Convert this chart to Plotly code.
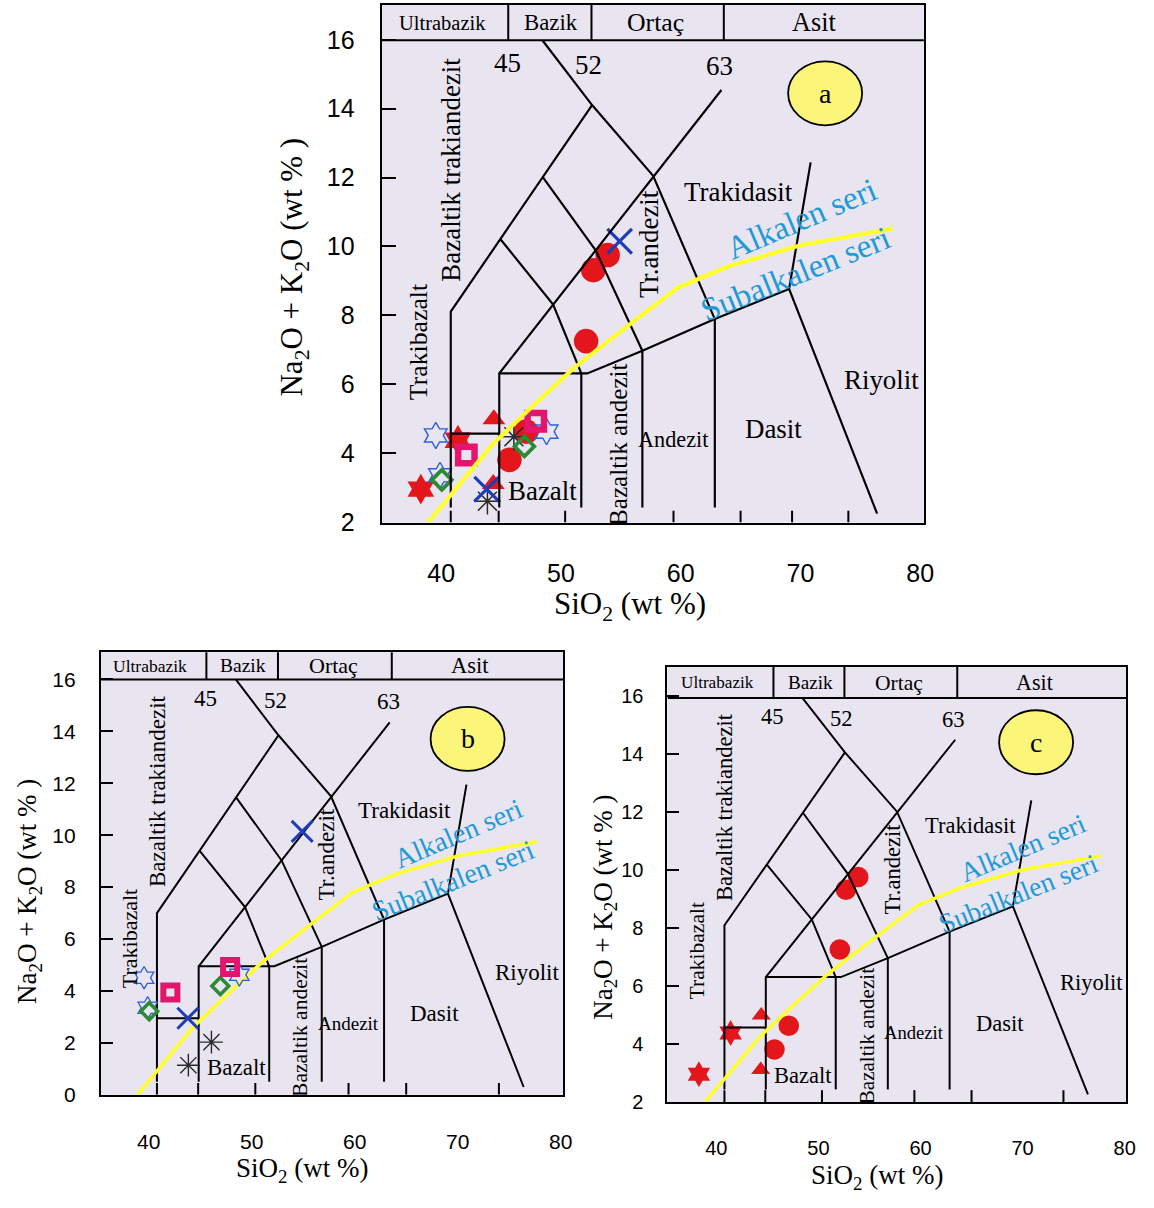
import plotly.graph_objects as go

FIG_W, FIG_H = 1154, 1208

# ---------------- tick labels ----------------
x_tick_vals = [40, 50, 60, 70, 80]
y_tick_vals_ac = [2, 4, 6, 8, 10, 12, 14, 16]
y_tick_vals_b = [0, 2, 4, 6, 8, 10, 12, 14, 16]

# ---------------- samples (values read on each panel's labelled axes) ----------------
red_star_x = [38.3, 41.4]
red_star_y = [2.95, 4.37]
red_tri_x = [44.4, 44.35]
red_tri_y = [4.98, 3.10]
red_dot_x = [45.7, 47.1, 52.1, 52.7, 53.9]
red_dot_y = [3.80, 4.62, 7.25, 9.31, 9.75]
blue_star_x = [39.55, 39.9, 48.8]
blue_star_y = [4.51, 3.35, 4.62]
green_dia_x = [40.05, 46.95]
green_dia_y = [3.22, 4.19]
pink_sq_x = [42.1, 47.9]
pink_sq_y = [3.94, 4.92]
blue_x_x = [43.8, 54.9]
blue_x_y = [2.95, 10.15]
black_ast_a_x = [46.07, 43.86]
black_ast_a_y = [4.47, 2.60]
black_ast_b_x = [46.09, 43.85]
black_ast_b_y = [2.03, 1.14]

# ---------------- TAS field boundaries (diagram units) ----------------
FIELD_LINES = [
    ([40.8, 40.8, 52.6], [0.5, 7.0, 13.85]),
    ([48.45, 52.6, 57.7, 62.85, 62.85], [16.0, 13.85, 11.5, 6.75, 0.5]),
    ([63.4, 44.85, 44.85], [14.35, 4.95, 0.5]),
    ([44.95, 49.35, 51.7], [9.4, 7.23, 4.95]),
    ([48.5, 52.9, 56.8], [11.45, 9.03, 5.7]),
    ([40.8, 44.85], [2.95, 2.95]),
    ([44.85, 52.2, 56.8, 62.85, 69.05], [4.95, 4.95, 5.7, 6.75, 7.75]),
    ([51.7, 51.7], [4.95, 0.5]),
    ([56.8, 56.8], [5.7, 0.5]),
    ([70.85, 69.05, 76.4], [11.95, 7.75, 0.3]),
]
header_y = 16.0
header_dividers = [45.6, 52.55, 63.6]
bottom_ticks = [40.8, 44.8, 50.35, 59.4, 65.0, 74.0]

# alkaline / subalkaline divide
yellow_x = [38.9, 41.0, 44.3, 48.0, 51.0, 55.5, 59.8, 64.0, 70.0, 77.7]
yellow_y = [0.0, 1.0, 2.6, 4.0, 5.1, 6.5, 7.8, 8.5, 9.2, 9.75]

BLUE_TXT = "#1d9ad9"
FIELD_LABELS = [
    ("Trakibazalt", 38.1, 6.0, 22, -90, "black"),
    ("Bazaltik trakiandezit", 40.8, 11.7, 23, -90, "black"),
    ("Tr.andezit", 57.3, 9.25, 23, -90, "black"),
    ("Trakidasit", 64.85, 10.95, 23, 0, "black"),
    ("Alkalen seri", 70.05, 10.07, 28, -23, BLUE_TXT),
    ("Subalkalen seri", 69.55, 8.25, 28, -22, BLUE_TXT),
    ("Riyolit", 76.75, 4.72, 23, 0, "black"),
    ("Dasit", 67.75, 3.12, 23, 0, "black"),
    ("Andezit", 59.4, 2.75, 19, 0, "black"),
    ("Bazaltik andezit", 54.75, 2.6, 21.5, -90, "black"),
    ("Bazalt", 48.5, 1.05, 23, 0, "black"),
    ("45", 45.55, 15.26, 23, 0, "black"),
    ("52", 52.3, 15.18, 23, 0, "black"),
    ("63", 63.26, 15.14, 23, 0, "black"),
]
HEADER_LABELS = [
    ("Ultrabazik", 40.1, 17.5),
    ("Bazik", 49.2, 19.5),
    ("Ortaç", 57.9, 22),
    ("Asit", 71.2, 22.5),
]
badge_letters = ["a", "b", "c"]
badge_x = [72.06, 70.96, 71.32]
badge_y = [14.24, 13.71, 14.25]

# ---------------- panel geometry (pixels of the reference) ----------------
PANELS = [
    dict(letter="a", xa="x", ya="y", yf="y4", s=1.17,
         px=(385, 932), py=(5, 528.3), xr=[35.03, 80.31], yr=[1.977, 17.014], fr=[0, 17.17],
         yticks=y_tick_vals_ac, tickfs=25, titlefs=31, ticklen=14,
         ytitle=(297, 270), xtitle=(636, 613), xstand=27, ystand=20),
    dict(letter="b", xa="x2", ya="y2", yf="y2", s=1.0,
         px=(101.7, 568.3), py=(659.3, 1106.7), xr=[35.35, 80.26], yr=[0, 17.05], fr=[0, 17.05],
         yticks=y_tick_vals_b, tickfs=21, titlefs=27, ticklen=12,
         ytitle=(30, 901), xtitle=(305, 1183), xstand=27, ystand=19),
    dict(letter="c", xa="x3", ya="y3", yf="y5", s=0.98,
         px=(673.3, 1136), py=(674.3, 1114), xr=[35.22, 80.14], yr=[1.99, 16.99], fr=[0, 17.23],
         yticks=y_tick_vals_ac, tickfs=20, titlefs=27, ticklen=12,
         ytitle=(610, 917), xtitle=(885, 1190), xstand=27, ystand=18),
]

fig = go.Figure()
annotations = []
shapes = []
layout_axes = {}

SERIF = "Liberation Serif"
SANS = "Liberation Sans"


def axis_key(ref):
    return ("xaxis" if ref[0] == "x" else "yaxis") + ref[1:]


for i, p in enumerate(PANELS):
    s = p["s"]
    xa, ya, yf = p["xa"], p["ya"], p["yf"]
    xdom = [p["px"][0] / FIG_W, p["px"][1] / FIG_W]
    ydom = [1 - p["py"][1] / FIG_H, 1 - p["py"][0] / FIG_H]

    layout_axes[axis_key(xa)] = dict(
        domain=xdom, range=p["xr"], anchor=ya, tickvals=x_tick_vals, ticks="",
        showgrid=False, zeroline=False, showline=True, mirror=True,
        linecolor="black", linewidth=2, ticklabelstandoff=p["xstand"],
        tickfont=dict(family=SANS, size=p["tickfs"], color="black"))
    layout_axes[axis_key(ya)] = dict(
        domain=ydom, range=p["yr"], anchor=xa, tickvals=p["yticks"], ticks="inside",
        ticklen=p["ticklen"], tickwidth=2, tickcolor="black",
        showgrid=False, zeroline=False, showline=True, mirror=True,
        linecolor="black", linewidth=2, ticklabelstandoff=p["ystand"],
        tickfont=dict(family=SANS, size=p["tickfs"], color="black"))
    if yf != ya:
        layout_axes[axis_key(yf)] = dict(
            overlaying=ya, anchor=xa, range=p["fr"], visible=False,
            showgrid=False, zeroline=False)

    # field boundaries
    for xs, ys in FIELD_LINES:
        fig.add_trace(go.Scatter(x=xs, y=ys, mode="lines", xaxis=xa, yaxis=yf,
                                 line=dict(color="black", width=2.0 * s ** 0.5),
                                 hoverinfo="skip", showlegend=False))
    # header band
    fig.add_trace(go.Scatter(x=[p["xr"][0], p["xr"][1]], y=[header_y, header_y], mode="lines",
                             xaxis=xa, yaxis=yf, line=dict(color="black", width=2),
                             hoverinfo="skip", showlegend=False))
    for dx in header_dividers:
        fig.add_trace(go.Scatter(x=[dx, dx], y=[header_y, p["fr"][1] + 1], mode="lines",
                                 xaxis=xa, yaxis=yf, line=dict(color="black", width=2),
                                 hoverinfo="skip", showlegend=False))
    # small ticks of the drawing on the bottom edge
    tick_h = 12.0 / ((p["py"][1] - p["py"][0]) / (p["fr"][1] - p["fr"][0]))
    for tx in bottom_ticks + ([69.3] if p["letter"] == "a" else []):
        fig.add_trace(go.Scatter(x=[tx, tx], y=[0, tick_h], mode="lines",
                                 xaxis=xa, yaxis=yf, line=dict(color="black", width=2),
                                 hoverinfo="skip", showlegend=False))
    # alkaline divide
    fig.add_trace(go.Scatter(x=yellow_x, y=yellow_y, mode="lines", xaxis=xa, yaxis=yf,
                             line=dict(color="#ffff2e", width=3.6 * s),
                             hoverinfo="skip", showlegend=False))

    # ---- samples ----
    def add_pts(xs, ys, symbol, size, color, lw=0, lcolor=None):
        fig.add_trace(go.Scatter(
            x=xs, y=ys, mode="markers", xaxis=xa, yaxis=ya, showlegend=False,
            hoverinfo="skip",
            marker=dict(symbol=symbol, size=size * s, color=color,
                        line=dict(width=lw * s ** 0.5, color=lcolor or color))))

    if p["letter"] in ("a", "c"):
        add_pts(red_dot_x, red_dot_y, "circle", 21, "#e3161b")
        add_pts(red_tri_x, red_tri_y, "triangle-up", 17, "#e3161b")
        add_pts(red_star_x, red_star_y, "hexagram", 20, "#e3161b")
    if p["letter"] in ("a", "b"):
        ax_x = black_ast_a_x if p["letter"] == "a" else black_ast_b_x
        ax_y = black_ast_a_y if p["letter"] == "a" else black_ast_b_y
        add_pts(ax_x, ax_y, "asterisk-open", 19, "#2a2a2a", 1.4)
        add_pts(blue_star_x, blue_star_y, "hexagram-open", 17, "#2b5fd9", 1.3)
        add_pts(green_dia_x, green_dia_y, "diamond-open", 13, "#2c8a34", 3.5)
        add_pts(pink_sq_x, pink_sq_y, "square-open", 14, "#e5156e", 6)
        add_pts(blue_x_x, blue_x_y, "x-thin-open", 21, "#1d3eb8", 3)

    # ---- field labels ----
    for txt, tx, ty, fs, ang, col in FIELD_LABELS:
        annotations.append(dict(text=txt, x=tx, y=ty, xref=xa, yref=yf, showarrow=False,
                                textangle=ang, font=dict(family=SERIF, size=fs * s, color=col),
                                xanchor="center", yanchor="middle"))
    for txt, tx, fs in HEADER_LABELS:
        annotations.append(dict(text=txt, x=tx, y=(header_y + p["fr"][1]) / 2, xref=xa, yref=yf,
                                showarrow=False, font=dict(family=SERIF, size=fs * s, color="black"),
                                xanchor="center", yanchor="middle"))

    # ---- yellow badge ----
    shapes.append(dict(type="circle", xref=xa, yref=yf,
                       xsizemode="pixel", xanchor=badge_x[i], x0=-37, x1=37,
                       ysizemode="pixel", yanchor=badge_y[i], y0=-32, y1=32,
                       fillcolor="#fbf57a", line=dict(color="black", width=1.8)))
    annotations.append(dict(text=badge_letters[i], x=badge_x[i], y=badge_y[i], xref=xa, yref=yf,
                            showarrow=False, font=dict(family=SERIF, size=28, color="black"),
                            xanchor="center", yanchor="middle"))

    # ---- axis titles ----
    annotations.append(dict(text="Na<sub>2</sub>O + K<sub>2</sub>O (wt % )",
                            x=p["ytitle"][0] / FIG_W, y=1 - p["ytitle"][1] / FIG_H,
                            xref="paper", yref="paper", showarrow=False, textangle=-90,
                            font=dict(family=SERIF, size=p["titlefs"], color="black"),
                            xanchor="center", yanchor="middle"))
    annotations.append(dict(text="SiO<sub>2</sub> (wt %)",
                            x=p["xtitle"][0] / FIG_W, y=1 - p["xtitle"][1] / FIG_H,
                            xref="paper", yref="paper", showarrow=False,
                            font=dict(family=SERIF, size=p["titlefs"], color="black"),
                            xanchor="center", yanchor="middle"))

fig.update_layout(
    width=FIG_W, height=FIG_H,
    margin=dict(l=0, r=0, t=0, b=0),
    paper_bgcolor="white", plot_bgcolor="#e8e4f0",
    showlegend=False,
    annotations=annotations, shapes=shapes,
    **layout_axes,
)

fig.write_html("out.html")
